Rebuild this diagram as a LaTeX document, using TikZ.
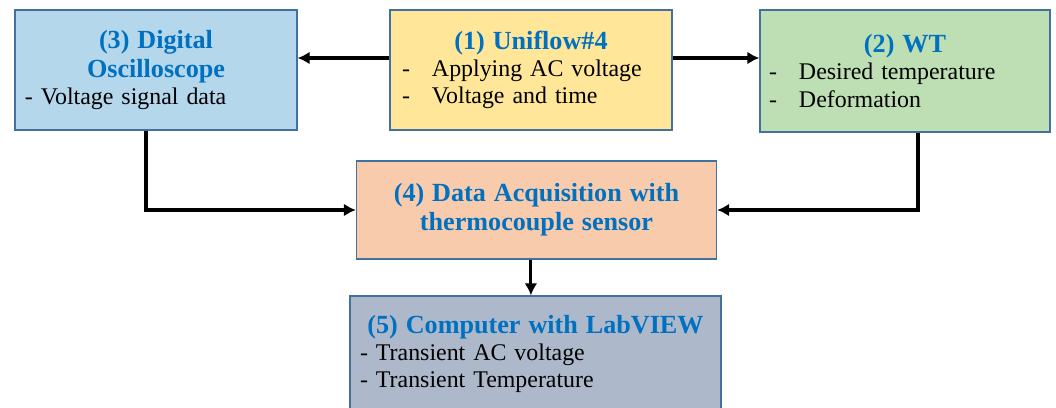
\documentclass[tikz,border=0pt]{standalone}
\usepackage{fontspec}
\setmainfont{Liberation Serif}
\usetikzlibrary{arrows.meta}
\definecolor{ttlblue}{HTML}{0070C0}
\definecolor{edgeblue}{HTML}{41719C}
\definecolor{oscfill}{HTML}{B4D7EC}
\definecolor{unifill}{HTML}{FFE699}
\definecolor{wtfill}{HTML}{BDDFB3}
\definecolor{daqfill}{HTML}{F8CBAD}
\definecolor{pcfill}{HTML}{ADB9CA}
\newcommand{\ttl}[1]{{\centering\fontsize{18.6}{20.8}\selectfont\bfseries\color{ttlblue}#1\par}}
\newcommand{\itm}{\makebox[0.75cm][l]{-}}
\tikzset{
  blk/.style={draw=edgeblue, line width=0.9pt, inner xsep=0.25cm, inner ysep=0pt,
    align=left, font=\fontsize{17}{19.4}\selectfont},
  flow/.style={line width=2.2pt, -{Latex[length=0.3cm,width=0.32cm]}}
}
\begin{document}
\begin{tikzpicture}
  \useasboundingbox (0,0) rectangle (26.4,-10.175);
  \clip (0,0) rectangle (26.4,-10.175);
  % top row
  \node[blk, fill=oscfill, minimum width=7.05cm, minimum height=3cm, text width=6.55cm] (osc) at (3.9,-1.75)
    {\ttl{(3) Digital\\Oscilloscope}- Voltage signal data};
  \node[blk, fill=unifill, minimum width=7.05cm, minimum height=3cm, inner xsep=0.3cm, text width=6.45cm] (uni) at (13.275,-1.75)
    {\ttl{(1) Uniflow\#4}\itm Applying AC voltage\\\itm Voltage and time};
  \node[blk, fill=wtfill, minimum width=7.25cm, minimum height=3.05cm, inner xsep=0.225cm, text width=6.8cm] (wt) at (22.625,-1.775)
    {\ttl{(2) WT}\itm Desired temperature\\\itm Deformation};
  % middle and bottom
  \node[blk, fill=daqfill, minimum width=8.975cm, minimum height=2.45cm, text width=8.5cm] (daq) at (13.4125,-5.25)
    {\ttl{(4) Data Acquisition with\\thermocouple sensor}};
  \node[blk, fill=pcfill, minimum width=9.275cm, minimum height=2.9cm, text width=8.775cm] (pc) at (13.3875,-8.85)
    {\ttl{(5) Computer with LabVIEW}- Transient AC voltage\\- Transient Temperature};
  % connectors
  \draw[flow] ([yshift=0.3cm]uni.west) -- ([yshift=0.3cm]uni.west -| osc.east);
  \draw[flow] ([yshift=0.3cm]uni.east) -- ([yshift=0.3cm]uni.east -| wt.west);
  \draw[flow] ([xshift=-0.25cm]osc.south) |- (daq.west);
  \draw[flow] ([xshift=0.325cm]wt.south) |- (daq.east);
  \draw[flow] ([xshift=-0.14cm]daq.south) -- ([xshift=-0.14cm]daq.south |- pc.north);
\end{tikzpicture}
\end{document}
